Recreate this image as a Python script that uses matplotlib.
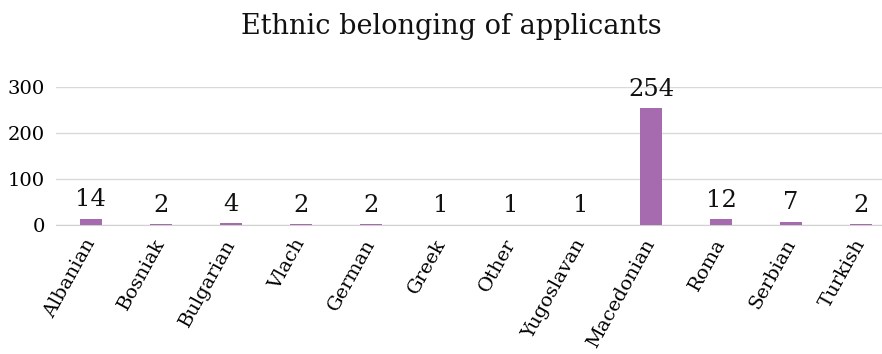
import matplotlib.pyplot as plt

groups = ["Albanian", "Bosniak", "Bulgarian", "Vlach", "German", "Greek",
          "Other", "Yugoslavan", "Macedonian", "Roma", "Serbian", "Turkish"]
applicants = [14, 2, 4, 2, 2, 1, 1, 1, 254, 12, 7, 2]
y_ticks = [0, 100, 200, 300]

plt.rcParams["font.family"] = ["DejaVu Serif"]

W, H = 882, 354
fig = plt.figure(figsize=(W / 100, H / 100), dpi=100)
# plot area: 56px from the left, running off the right edge
left_px, bottom_px, top_px = 56, 225, 87
ax = fig.add_axes([left_px / W, 1 - bottom_px / H,
                   1 - left_px / W, (bottom_px - top_px) / H])

slot = 70  # px per category
x = range(len(groups))
bars = ax.bar(x, applicants, width=0.315, color="#a66aae", zorder=3)
for rect, v in zip(bars, applicants):
    ax.annotate(str(v), (rect.get_x() + rect.get_width() / 2, v),
                xytext=(0, 9), textcoords="offset points",
                ha="center", va="baseline", fontsize=17.5, color="#111111")

ax.set_xlim(-0.5, -0.5 + (W - left_px) / slot)
ax.set_ylim(0, 300)
ax.set_yticks(y_ticks)
ax.tick_params(axis="y", length=0, labelsize=14, pad=8)
ax.tick_params(axis="x", length=0, labelsize=14, pad=11)
ax.set_xticks(list(x))
ax.set_xticklabels(groups, rotation=61, ha="right", va="center",
                   rotation_mode="anchor")
ax.grid(axis="y", color="#d9d9d9", linewidth=1, zorder=0)
for side in ("top", "right", "left"):
    ax.spines[side].set_visible(False)
ax.spines["bottom"].set_color("#d0d0d0")

fig.text(451 / W, 1 - 27 / H, "Ethnic belonging of applicants",
         ha="center", va="center", fontsize=19.5, color="#111111")
fig.savefig("out.png", dpi=100)
